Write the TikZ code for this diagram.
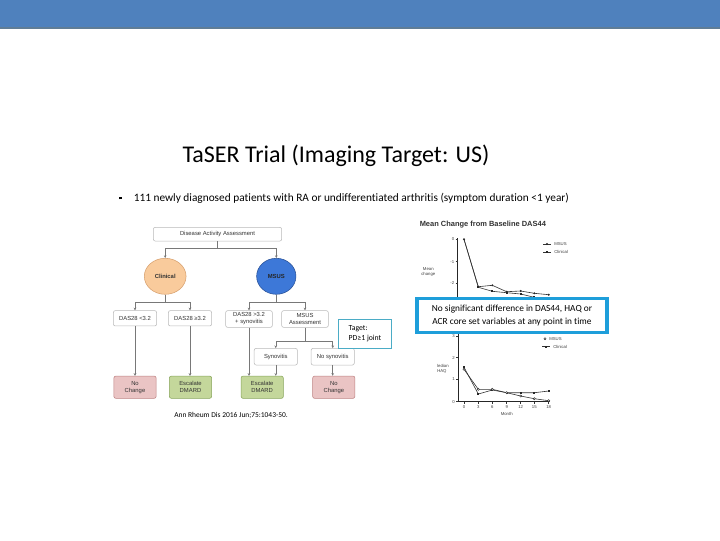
\documentclass[tikz,border=0pt]{standalone}
\usepackage{fontspec}
\setmainfont{Carlito}[Ligatures=NoCommon]
\newfontfamily\arial{Liberation Sans}
\usetikzlibrary{arrows.meta,shapes.geometric}
\definecolor{barblue}{RGB}{79,129,189}
\definecolor{barline}{RGB}{96,125,150}
\definecolor{peach}{RGB}{249,203,156}
\definecolor{peachd}{RGB}{215,160,110}
\definecolor{msusblue}{RGB}{61,120,216}
\definecolor{msusd}{RGB}{40,80,150}
\definecolor{pinkf}{RGB}{234,196,196}
\definecolor{pinkd}{RGB}{190,130,130}
\definecolor{greenf}{RGB}{196,215,155}
\definecolor{greend}{RGB}{135,165,90}
\definecolor{cyanb}{RGB}{30,158,218}
\definecolor{tealb}{RGB}{75,172,198}
\definecolor{cgray}{RGB}{120,120,120}
\tikzset{
  fc/.style={draw=gray!55, line width=0.4pt, rounded corners=1.5pt, fill=white, align=center, inner sep=0pt,
    font=\arial\fontsize{4.4}{5.2}\selectfont, text=black!80},
  endbox/.style={fc, minimum width=31.7pt, minimum height=16.7pt},
  nochg/.style={endbox, fill=pinkf, draw=pinkd},
  escal/.style={endbox, fill=greenf, draw=greend},
  line/.style={draw=cgray, line width=0.45pt},
  arr/.style={line, -{Stealth[length=2pt,width=2pt]}},
  gtxt/.style={font=\arial\fontsize{3.2}{3.8}\selectfont, text=black!75, inner sep=0pt},
  gline/.style={draw=black!80, line width=0.45pt},
}
\begin{document}
\begin{tikzpicture}[x=0.75pt,y=-0.75pt]
\useasboundingbox (0,0) rectangle (720,540);
\fill[white] (0,0) rectangle (720,540);
% top bar
\fill[barblue] (0,0) rectangle (720,27);
\fill[barline] (0,27) rectangle (720,28.5);
% title
\node[font=\fontsize{18}{21}\selectfont, inner sep=0pt] (title) at (336,156) {TaSER Trial (Imaging Target: US)};
% bullet
\node[inner sep=0pt] (bul) at (120.5,198) {\rule{2.2pt}{2.2pt}};
\node[anchor=west, inner sep=0pt, font=\fontsize{8.5}{10}\selectfont] (btxt) at (133.5,198) {111 newly diagnosed patients with RA or undifferentiated arthritis (symptom duration <1 year)};

% flowchart
\node[fc, minimum width=96.3pt, minimum height=10.3pt] (daa) at (217.5,234.2) {Disease Activity Assessment};
\node[ellipse, draw=peachd, fill=peach, line width=0.4pt, minimum width=31.3pt, minimum height=27pt, inner sep=0pt,
      font=\arial\bfseries\fontsize{4.4}{5.2}\selectfont, text=black!80] (clin) at (165.2,276.3) {Clinical};
\node[ellipse, draw=msusd, fill=msusblue, line width=0.4pt, minimum width=29.5pt, minimum height=27pt, inner sep=0pt,
      font=\arial\bfseries\fontsize{4.4}{5.2}\selectfont, text=black!85] (msus) at (276.3,276.3) {MSUS};
\node[fc, minimum width=32.5pt, minimum height=11.5pt] (d1) at (135,318.3) {DAS28 <3.2};
\node[fc, minimum width=32.5pt, minimum height=11.5pt] (d2) at (190,318.3) {DAS28 ≥3.2};
\node[fc, minimum width=35pt, minimum height=12.5pt] (d3) at (249,319) {DAS28 >3.2\\+ synovitis};
\node[fc, minimum width=35pt, minimum height=12.5pt] (ma) at (305,319) {MSUS\\Assessment};
\node[fc, minimum width=32.4pt, minimum height=12.5pt] (syn) at (275.8,356.7) {Synovitis};
\node[fc, minimum width=32.4pt, minimum height=12.5pt] (nosyn) at (332.7,356.7) {No synovitis};
\node[nochg] (nc1) at (135,387.2) {No\\Change};
\node[escal] (esc1) at (190.5,387.2) {Escalate\\DMARD};
\node[escal] (esc2) at (262.2,387.2) {Escalate\\DMARD};
\node[nochg] (nc2) at (333.8,387.2) {No\\Change};

\coordinate (j1) at (217.5,248.3);
\coordinate (j2) at (165.2,302.3);
\coordinate (j3) at (276.3,302.3);
\coordinate (j4) at (305,341);
\draw[line] (daa.south) -- (j1);
\draw[arr] (j1) -| (clin.north);
\draw[arr] (j1) -| (msus.north);
\draw[line] (clin.south) -- (j2);
\draw[arr] (j2) -| (d1.north);
\draw[arr] (j2) -| (d2.north);
\draw[line] (msus.south) -- (j3);
\draw[arr] (j3) -| (d3.north);
\draw[arr] (j3) -| (ma.north);
\draw[line] (ma.south) -- (j4);
\draw[arr] (j4) -| (syn.north);
\draw[arr] (j4) -| (nosyn.north);
\draw[arr] (d1.south) -- (nc1.north);
\draw[arr] (d2.south) -- (d2.south |- esc1.north);
\draw[arr] (d3.south) -- (d3.south |- esc2.north);
\draw[arr] (syn.south) -- (syn.south |- esc2.north);
\draw[arr] (nosyn.south) -- (nosyn.south |- nc2.north);

% target box
\node[draw=tealb, line width=0.9pt, fill=white, minimum width=40pt, minimum height=21.8pt, inner sep=0pt,
      align=left, font=\fontsize{5.8}{7.4}\selectfont] (taget) at (365,333.8) {Taget:\\PD≥1 joint};

% citation
\node[anchor=west, inner sep=0pt, font=\fontsize{5.6}{7}\selectfont] (cite) at (174,415.7) {Ann Rheum Dis 2016 Jun;75:1043-50.};

% upper graph
\node[anchor=west, inner sep=0pt, font=\arial\bfseries\fontsize{5.6}{6.5}\selectfont, text=black!80] (gt1) at (419.5,225) {Mean Change from Baseline DAS44};
\draw[black!85, line width=1.1pt] (457.7,238) -- (457.7,300);
\foreach \yy/\lab in {239.3/0, 261.7/-1, 283.3/-2}{
  \draw[gline] (455.5,\yy) -- (457.7,\yy);
  \node[gtxt, anchor=east] at (454.5,\yy) {\lab};
}
\node[gtxt, align=center] (mc) at (428.3,271.5) {Mean\\change};
\draw[gline] (464,239.3) -- (478.3,287.3) -- (492.3,291.3) -- (506.7,292.7) -- (520.7,294) -- (534.3,297.3) -- (548.7,300);
\draw[gline] (464,239.3) -- (478.3,286.7) -- (492.3,285.3) -- (506.7,291.7) -- (520.7,291) -- (534.3,293.3) -- (548.7,294.7);
\foreach \px/\py in {464/239.3, 478.3/286.7, 492.3/285.3, 506.7/291.7, 520.7/291, 534.3/293.3, 548.7/294.7}{
  \fill[black!85] (\px,\py) circle (1.1);
}
\foreach \px/\py in {478.3/287.3, 492.3/291.3, 506.7/292.7, 520.7/294, 534.3/297.3}{
  \fill[black!85] (\px-1,\py-1) rectangle (\px+1,\py+1);
}
\draw[gline] (543,244) -- (551,244); \fill[black!85] (547,244) circle (1.1);
\node[gtxt, anchor=west] at (554,244) {MSUS};
\draw[gline] (543,252) -- (551,252); \fill[black!85] (546,251) rectangle (548,253);
\node[gtxt, anchor=west] at (554,252) {Clinical};

% lower graph
\draw[black!85, line width=0.7pt] (458.3,334) -- (458.3,401.7) -- (550,401.7);
\foreach \yy/\lab in {336/3, 357.7/2, 379.3/1, 401.7/0}{
  \draw[gline] (456.3,\yy) -- (458.3,\yy);
  \node[gtxt, anchor=east] at (455,\yy) {\lab};
}
\foreach \xx/\lab in {464/0, 478.3/3, 492.3/6, 506.7/9, 520.7/12, 534.3/15, 548.7/18}{
  \draw[gline] (\xx,401.7) -- (\xx,403.5);
  \node[gtxt] at (\xx,407) {\lab};
}
\node[gtxt] (month) at (506.7,413.5) {Month};
\node[gtxt, align=left, anchor=west] (mhaq) at (437,369) {ledian\\HAQ};
\draw[gline] (464,367.3) -- (478.3,394) -- (492.3,390) -- (506.7,392.7) -- (520.7,392.7) -- (534.3,392.7) -- (548.7,391);
\draw[gline] (464,369.3) -- (478.3,389.3) -- (492.3,389.3) -- (506.7,392.7) -- (520.7,396) -- (534.3,398.7) -- (548.7,400.7);
\foreach \px/\py in {464/367.3, 478.3/394, 492.3/390, 506.7/392.7, 520.7/392.7, 534.3/392.7, 548.7/391}{
  \fill[black!85] (\px-1.1,\py-1.1) rectangle (\px+1.1,\py+1.1);
}
\foreach \px/\py in {464/369.3, 478.3/389.3, 492.3/389.3, 506.7/392.7, 520.7/396, 534.3/398.7, 548.7/400.7}{
  \draw[black!85, fill=white, line width=0.35pt] (\px,\py) circle (1.1);
}
\draw[black!85, line width=0.35pt] (545,338.7) circle (1.1);
\node[gtxt, anchor=west] at (549,338.7) {MSUS};
\draw[gline] (542,346.7) -- (550,346.7); \fill[black!85] (545,345.6) rectangle (547.2,347.8);
\node[gtxt, anchor=west] at (553,346.7) {Clinical};

% callout box
\node[draw=cyanb, line width=2.8pt, fill=white, minimum width=142pt, minimum height=25.5pt, inner sep=0pt,
      align=center, font=\fontsize{7}{9.4}\selectfont] (callout) at (512,315.5)
      {No significant difference in DAS44, HAQ or\\ACR core set variables at any point in time};
\end{tikzpicture}
\end{document}
